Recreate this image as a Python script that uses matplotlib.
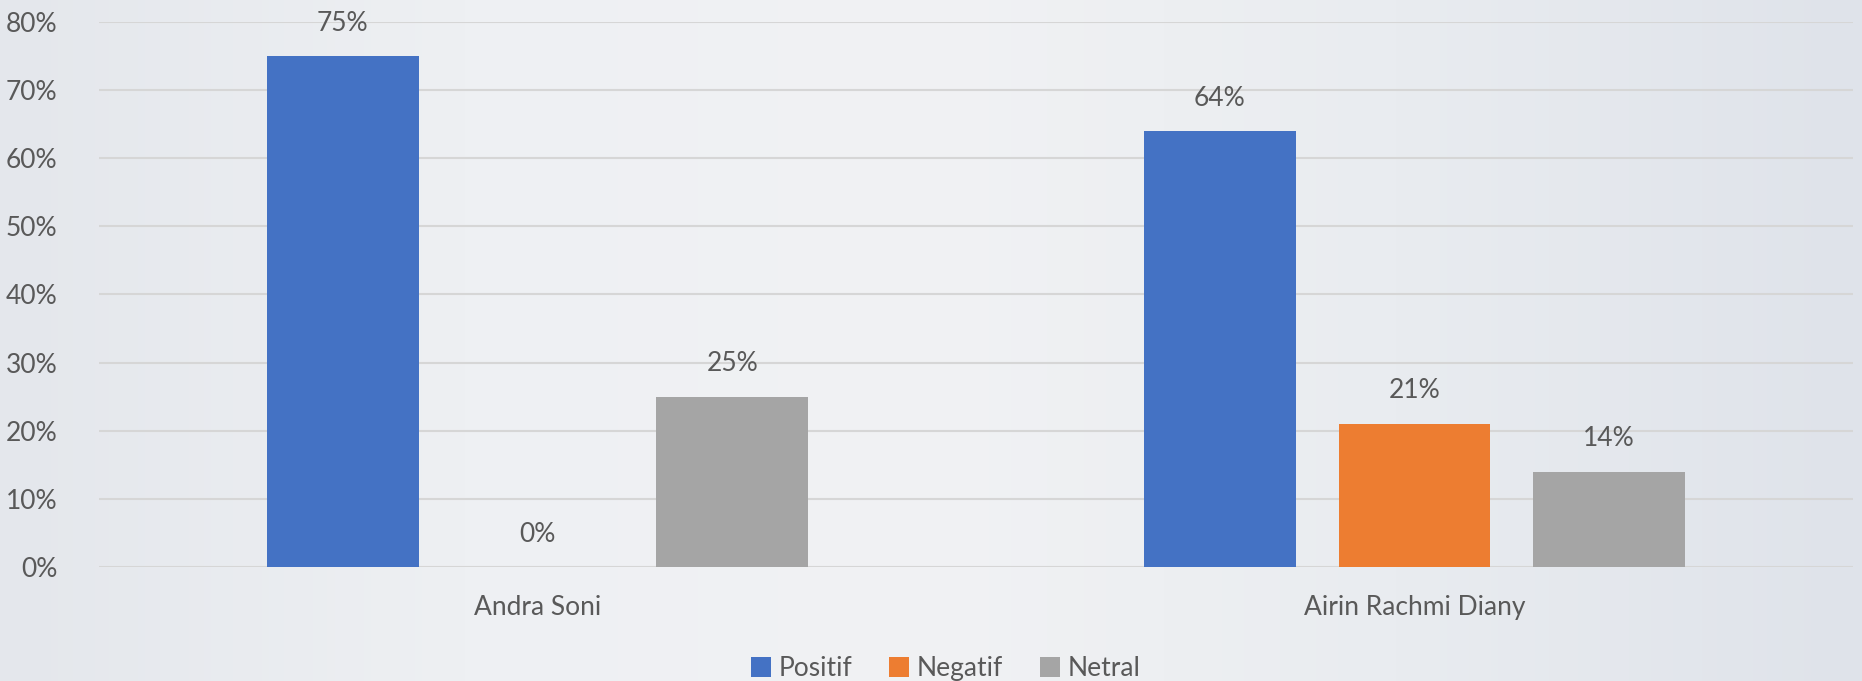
import numpy as np
import matplotlib
matplotlib.use('Agg')
import matplotlib.pyplot as plt
from matplotlib.colors import LinearSegmentedColormap

plt.rcParams['font.family'] = ['Lato', 'DejaVu Sans']

candidates = ['Andra Soni', 'Airin Rachmi Diany']
series = ['Positif', 'Negatif', 'Netral']
positif = [0.75, 0.64]
negatif = [0.00, 0.21]
netral = [0.25, 0.14]
colors = ['#4472c4', '#ed7d31', '#a5a5a5']
yticks = [0, 0.1, 0.2, 0.3, 0.4, 0.5, 0.6, 0.7, 0.8]

txt = '#595959'
fs = 19

fig = plt.figure(figsize=(18.62, 6.81), dpi=100)

# light background gradient
bg = fig.add_axes([0, 0, 1, 1])
grad = np.linspace(0, 1, 256).reshape(1, -1)
cmap = LinearSegmentedColormap.from_list('bg', ['#e4e7ec', '#eef0f3', '#f1f2f4', '#e9ecf0', '#dfe3ea'])
bg.imshow(grad, aspect='auto', cmap=cmap, extent=[0, 1, 0, 1])
bg.axis('off')

ax = fig.add_axes([0.0532, 0.1674, 0.942, 0.8003])
ax.patch.set_alpha(0)

x = np.arange(len(candidates))
w = 0.173
step = 0.222
for i, (name, vals) in enumerate(zip(series, [positif, negatif, netral])):
    pos = x + (i - 1) * step
    ax.bar(pos, vals, w, color=colors[i], label=name, zorder=3)
    for p, v in zip(pos, vals):
        ax.text(p, v + 0.03, '{:.0%}'.format(v), ha='center', va='bottom',
                fontsize=fs, color=txt)

ax.set_xlim(-0.5, 1.5)
ax.set_ylim(0, 0.8)
ax.set_yticks(yticks)
ax.set_yticklabels(['{:.0%}'.format(t) for t in yticks])
ax.set_xticks(x)
ax.set_xticklabels(candidates)
ax.tick_params(axis='both', length=0, labelsize=fs, labelcolor=txt)
ax.tick_params(axis='x', pad=20)
ax.tick_params(axis='y', pad=30)
ax.grid(axis='y', color='#d6d6d6', linewidth=1.5, zorder=0)
for s in ax.spines.values():
    s.set_visible(False)

leg = fig.legend(loc='lower center', bbox_to_anchor=(0.508, -0.035), ncol=3, frameon=False,
                 fontsize=fs, handlelength=0.75, handleheight=0.75, handletextpad=0.3,
                 columnspacing=1.4)
for t in leg.get_texts():
    t.set_color(txt)

fig.savefig('out.png', dpi=100)
